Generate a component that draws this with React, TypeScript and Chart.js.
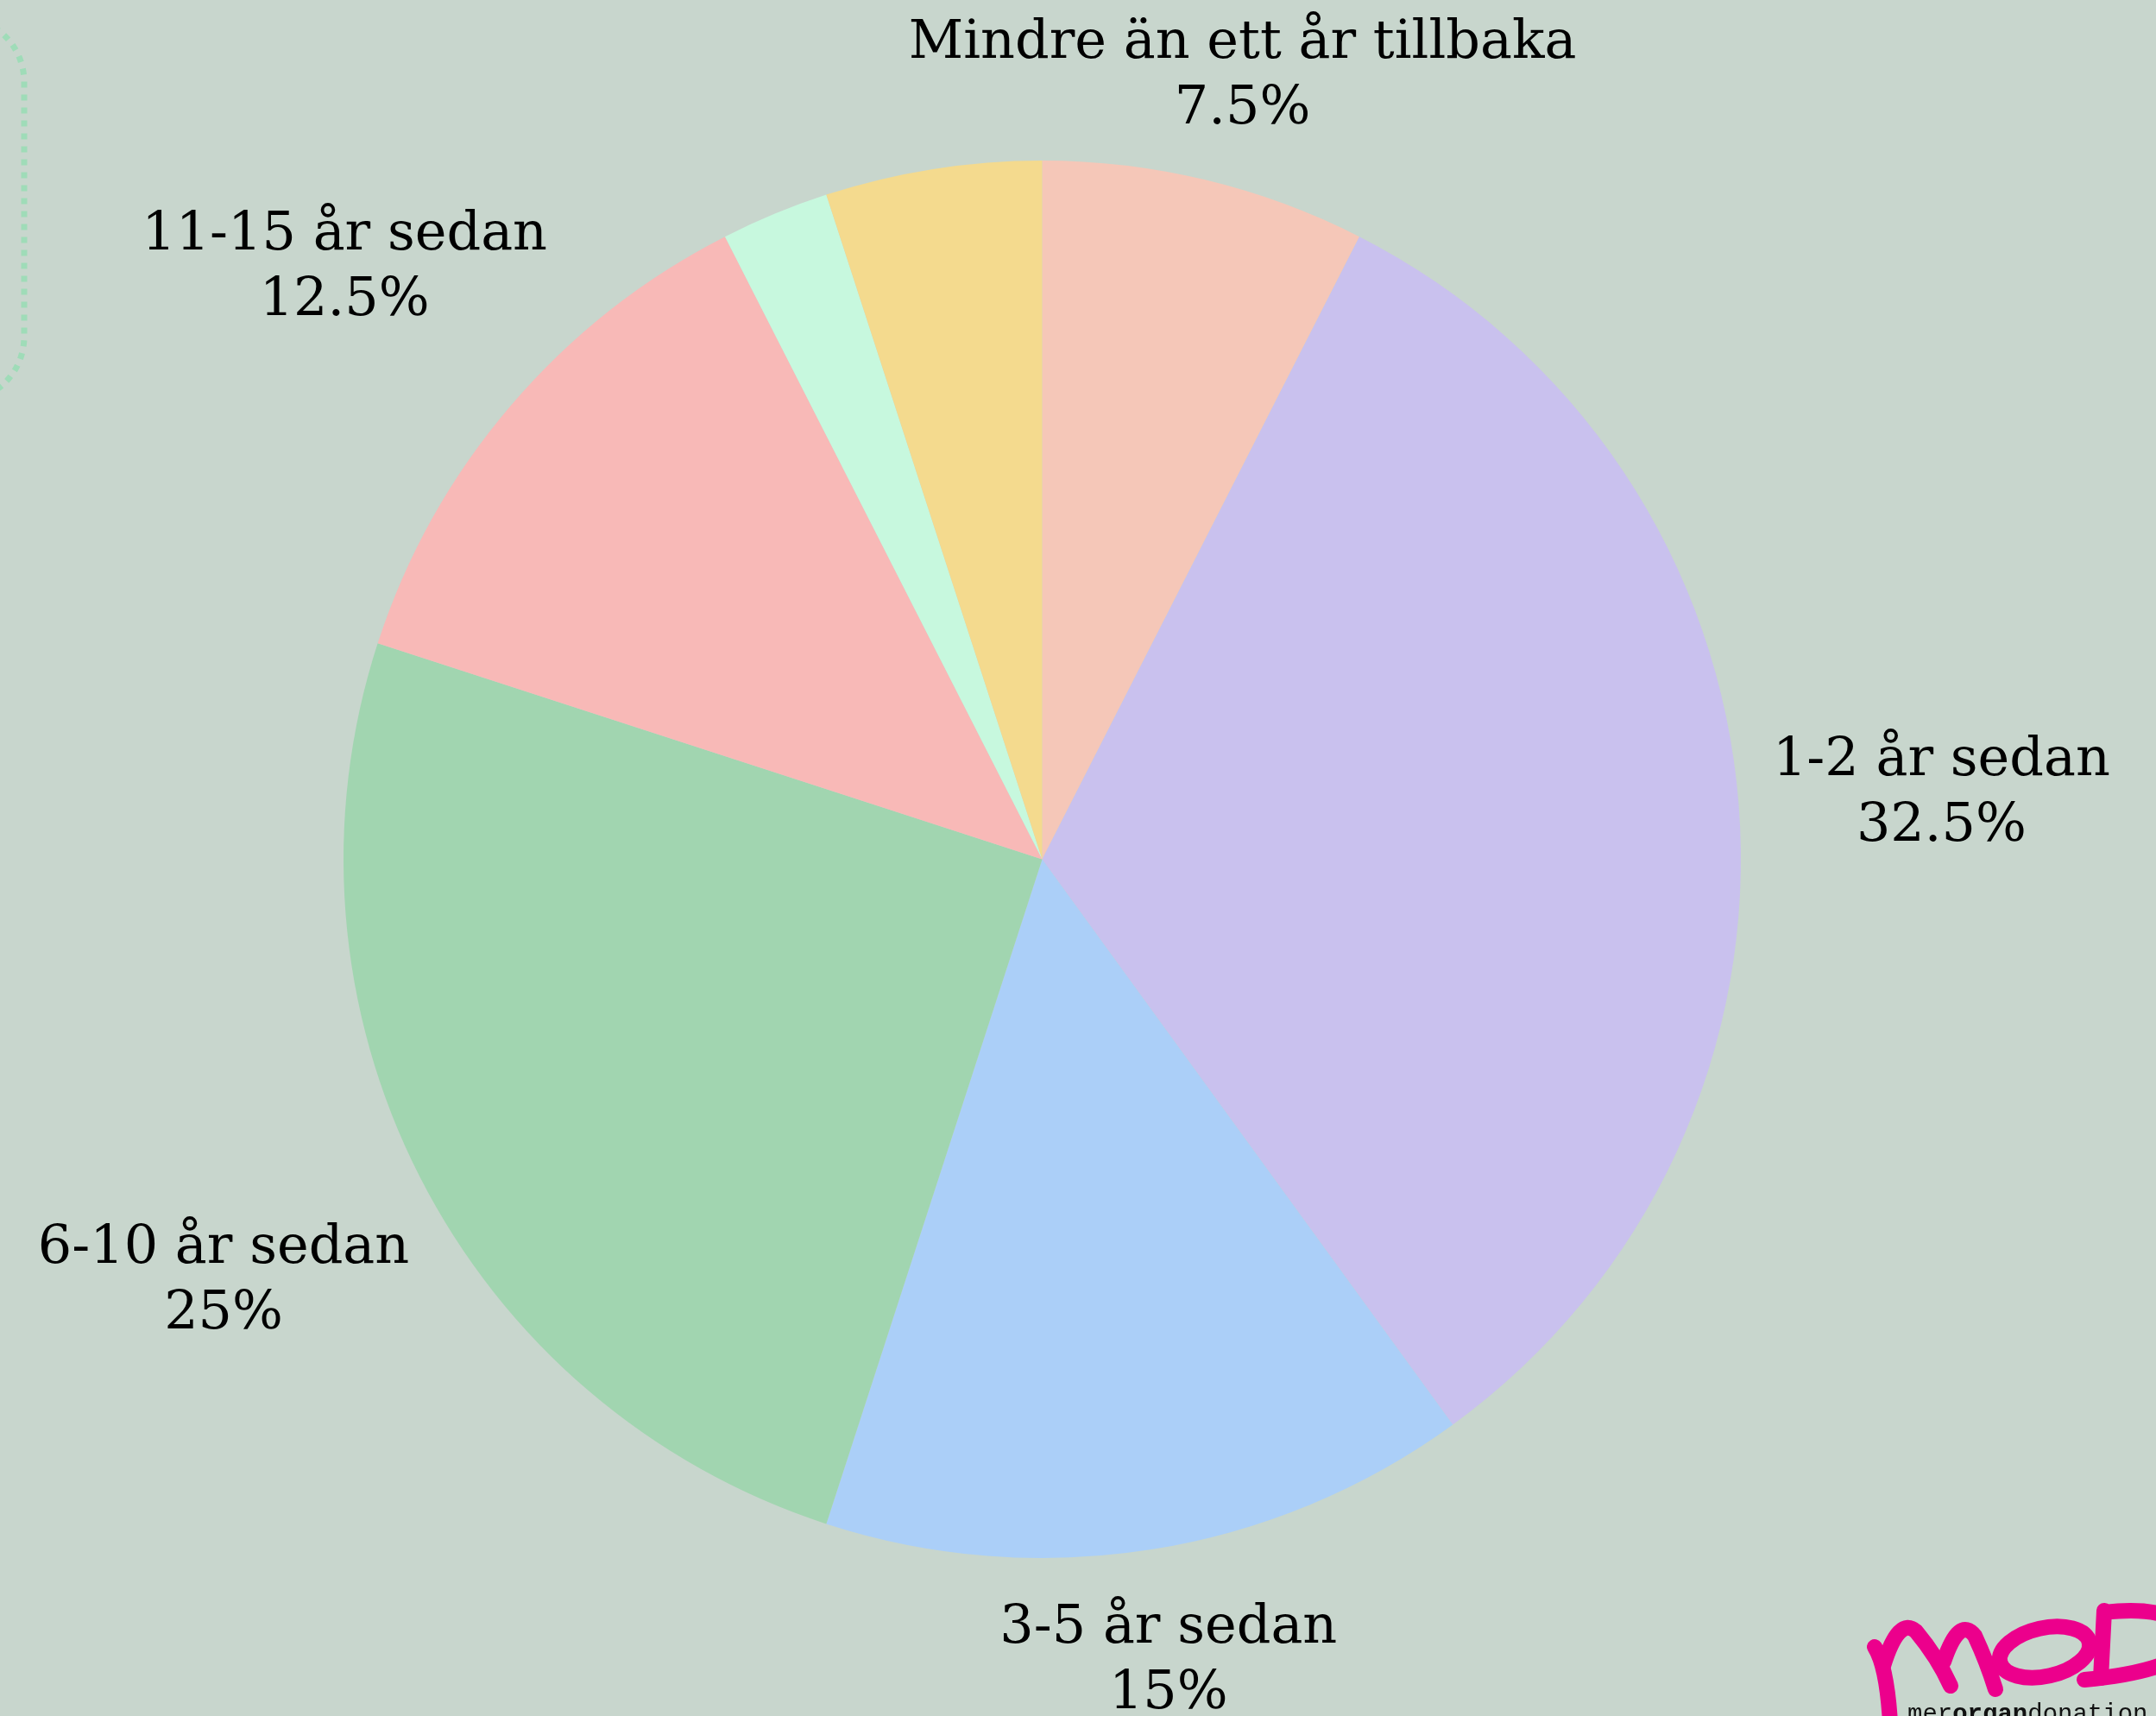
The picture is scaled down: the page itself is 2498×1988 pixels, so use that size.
import { useEffect, useRef } from "react";
import { Chart, registerables } from "chart.js";

Chart.register(...registerables);

const categories = [
  "Mindre än ett år tillbaka",
  "1-2 år sedan",
  "3-5 år sedan",
  "6-10 år sedan",
  "11-15 år sedan",
  "16-20 år sedan",
  "Mer än 20 år sedan",
];
const values = [7.5, 32.5, 15, 25, 12.5, 2.5, 5];
const sliceColors = ["#f5c7b8", "#c9c1ee", "#abcff8", "#a1d5b0", "#f8b9b7", "#c7f8de", "#f4da8e"];
const valueLabels = values.map((v) => `${v}%`);

const W = 2498;
const H = 1988;
const BG = "#c8d6cd";

const backgroundPlugin = {
  id: "bg",
  beforeDraw(chart: any) {
    const ctx = chart.ctx;
    ctx.save();
    ctx.fillStyle = BG;
    ctx.fillRect(0, 0, chart.width, chart.height);
    // decorative dotted rounded frame at left edge
    ctx.strokeStyle = "#9fdcb8";
    ctx.lineWidth = 7;
    ctx.setLineDash([7, 8]);
    ctx.beginPath();
    (ctx as any).roundRect(-500, 20, 528, 445, 75);
    ctx.stroke();
    ctx.restore();
  },
};

const outLabelsPlugin = {
  id: "outLabels",
  afterDatasetsDraw(chart: any) {
    const ctx = chart.ctx;
    const meta = chart.getDatasetMeta(0);
    ctx.save();
    ctx.font = '62px "DejaVu Serif"';
    ctx.fillStyle = "#000";
    ctx.textAlign = "center";
    ctx.textBaseline = "alphabetic";
    const placed: any[] = [];
    meta.data.forEach((arc: any, i: number) => {
      const p = arc.getProps(["x", "y", "startAngle", "endAngle", "outerRadius"], true);
      const mid = (p.startAngle + p.endAngle) / 2;
      const ux = Math.cos(mid);
      const uy = Math.sin(mid);
      const l1 = categories[i];
      const l2 = valueLabels[i];
      const w = Math.max(ctx.measureText(l1).width, ctx.measureText(l2).width);
      const a = w / 2;
      const b = 60;
      const d = p.outerRadius + 36 + a * Math.abs(ux) + b * Math.abs(uy);
      const cx = p.x + ux * d;
      let cy = p.y + uy * d;
      cy = Math.max(cy, b + 23);
      cy = Math.min(cy, chart.height - b - 8);
      const box = { l: cx - a, r: cx + a, t: cy - b, bt: cy + b };
      if (box.l < 0 || box.r > chart.width) return;
      const hit = placed.some((q) => !(box.r < q.l || box.l > q.r || box.bt < q.t || box.t > q.bt));
      if (hit) return;
      placed.push(box);
      ctx.fillText(l1, cx, cy - 16);
      ctx.fillText(l2, cx, cy + 60);
    });
    ctx.restore();
  },
};

const logoPlugin = {
  id: "logo",
  afterDraw(chart: any) {
    const ctx = chart.ctx;
    ctx.save();
    ctx.strokeStyle = "#ec008c";
    ctx.lineWidth = 18;
    ctx.lineCap = "round";
    ctx.lineJoin = "round";
    // m
    ctx.beginPath();
    ctx.moveTo(2172, 1908);
    ctx.quadraticCurveTo(2186, 1930, 2190, 1995);
    ctx.stroke();
    ctx.beginPath();
    ctx.moveTo(2182, 1930);
    ctx.quadraticCurveTo(2200, 1872, 2220, 1890);
    ctx.quadraticCurveTo(2245, 1920, 2260, 1953);
    ctx.stroke();
    ctx.beginPath();
    ctx.moveTo(2252, 1925);
    ctx.quadraticCurveTo(2270, 1872, 2288, 1895);
    ctx.quadraticCurveTo(2302, 1925, 2312, 1957);
    ctx.stroke();
    // O
    ctx.beginPath();
    ctx.ellipse(2369, 1914, 53, 28, -0.22, 0, Math.PI * 2);
    ctx.stroke();
    // D
    ctx.beginPath();
    ctx.moveTo(2438, 1866);
    ctx.lineTo(2434, 1944);
    ctx.stroke();
    ctx.beginPath();
    ctx.moveTo(2438, 1868);
    ctx.quadraticCurveTo(2525, 1858, 2540, 1900);
    ctx.quadraticCurveTo(2530, 1935, 2415, 1946);
    ctx.stroke();
    // tagline
    ctx.fillStyle = "#111";
    ctx.textBaseline = "alphabetic";
    ctx.textAlign = "left";
    let x = 2210;
    const parts: [string, string][] = [
      ["mer", "normal"],
      ["organ", "bold"],
      ["donation", "normal"],
    ];
    parts.forEach(([t, wgt]) => {
      ctx.font = `${wgt} 29px "Liberation Mono"`;
      ctx.fillText(t, x, 1994);
      x += ctx.measureText(t).width;
    });
    ctx.restore();
  },
};

export default function App() {
  const ref = useRef<HTMLCanvasElement | null>(null);
  useEffect(() => {
    document.body.style.margin = "0";
    document.body.style.background = BG;
    const canvas = ref.current!;
    const chart = new Chart(canvas, {
      type: "pie",
      data: {
        labels: categories,
        datasets: [
          {
            data: values,
            backgroundColor: sliceColors,
            borderWidth: 0,
          },
        ],
      },
      options: {
        animation: false,
        responsive: false,
        devicePixelRatio: 1,
        layout: { padding: { top: 186, bottom: 183, left: 398, right: 481 } },
        plugins: {
          legend: { display: false },
          tooltip: { enabled: false },
        },
      },
      plugins: [backgroundPlugin, outLabelsPlugin, logoPlugin],
    });
    return () => chart.destroy();
  }, []);
  return (
    <div style={{ position: "absolute", left: 0, top: 0, width: W, height: H, background: BG }}>
      <canvas ref={ref} width={W} height={H} style={{ display: "block", width: W, height: H }} />
    </div>
  );
}
